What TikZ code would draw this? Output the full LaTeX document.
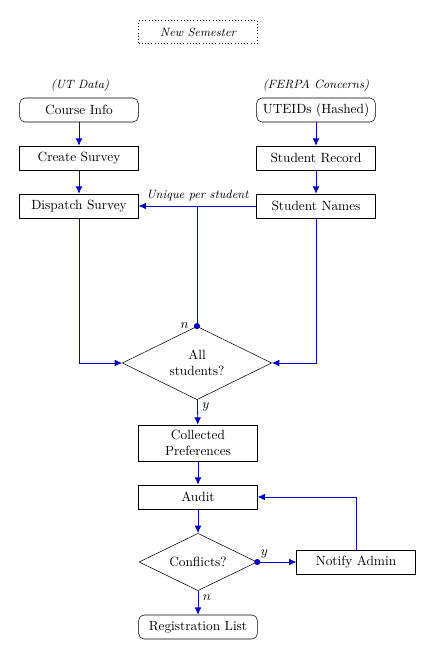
\documentclass[tikz,border=0pt]{standalone}
\usetikzlibrary{arrows.meta,positioning,shapes.geometric}
\definecolor{pBlue}{RGB}{0,0,210}
\tikzset{
    proc/.style={rectangle, draw, inner sep=2pt, minimum width=89pt, minimum height=18pt, align=center},
    term/.style={proc, rounded corners=4pt},
    dec/.style={diamond, draw, aspect=2, inner sep=0pt, align=center},
    note/.style={font=\small\itshape},
    flow/.style={draw=pBlue, line width=0.6pt, -{Latex[length=5.5pt,width=5pt]}}
}

\begin{document}
\begin{tikzpicture}[x=0.75pt,y=-0.75pt]
\useasboundingbox (0,0) rectangle (435,659);
\node[proc, dotted, minimum height=17pt, font=\small\itshape] (sem) at (198,32) {New Semester};
\node[note] (utd) at (80,85) {(UT Data)};
\node[note] (fer) at (316,85) {(FERPA Concerns)};
\node[term] (course) at (79,110) {Course Info};
\node[term] (uteid) at (316,110) {UTEIDs (Hashed)};
\node[proc] (create) at (79,158) {Create Survey};
\node[proc] (record) at (316,158) {Student Record};
\node[proc] (dispatch) at (79,206) {Dispatch Survey};
\node[proc] (names) at (316,206) {Student Names};
\node[dec, minimum width=112pt, minimum height=55pt] (all) at (197,363) {All\\students?};
\node[proc, minimum height=27pt] (prefs) at (198,443) {Collected\\Preferences};
\node[proc] (audit) at (198,497) {Audit};
\node[dec, minimum width=88.5pt, minimum height=43pt] (conf) at (198,562) {Conflicts?};
\node[proc] (notify) at (356,562) {Notify Admin};
\node[term] (reg) at (198,627) {Registration List};
\coordinate (junc) at (all.north |- names.west);
% survey side
\draw[flow] (course) -- (create);
\draw[flow] (create) -- (dispatch);
\draw[flow] (uteid) -- (record);
\draw[flow] (record) -- (names);
\draw[flow] (names) -- node[note, above] {Unique per student} (dispatch);
\draw[flow] (dispatch) |- (all.west);
\draw[flow] (names) |- (all.east);
\draw[draw=pBlue, line width=0.6pt] (all.north) -- (junc);
\fill[pBlue] (all.north) circle (2.3pt);
\node[left=5pt of all.north, inner sep=1pt] (alln) {$n$};
% checks
\draw[flow] (all) -- node[right, pos=0.3] {$y$} (prefs);
\draw[flow] (prefs) -- (audit);
\draw[flow] (audit) -- (conf);
\draw[flow] (conf) -- node[right, pos=0.3] {$n$} (reg);
\draw[flow] (conf.east) -- (notify);
\fill[pBlue] (conf.east) circle (2.3pt);
\node[above right=2pt of conf.east, inner sep=1pt] (confy) {$y$};
\draw[flow] (notify) |- (audit);
\end{tikzpicture}
\end{document}
